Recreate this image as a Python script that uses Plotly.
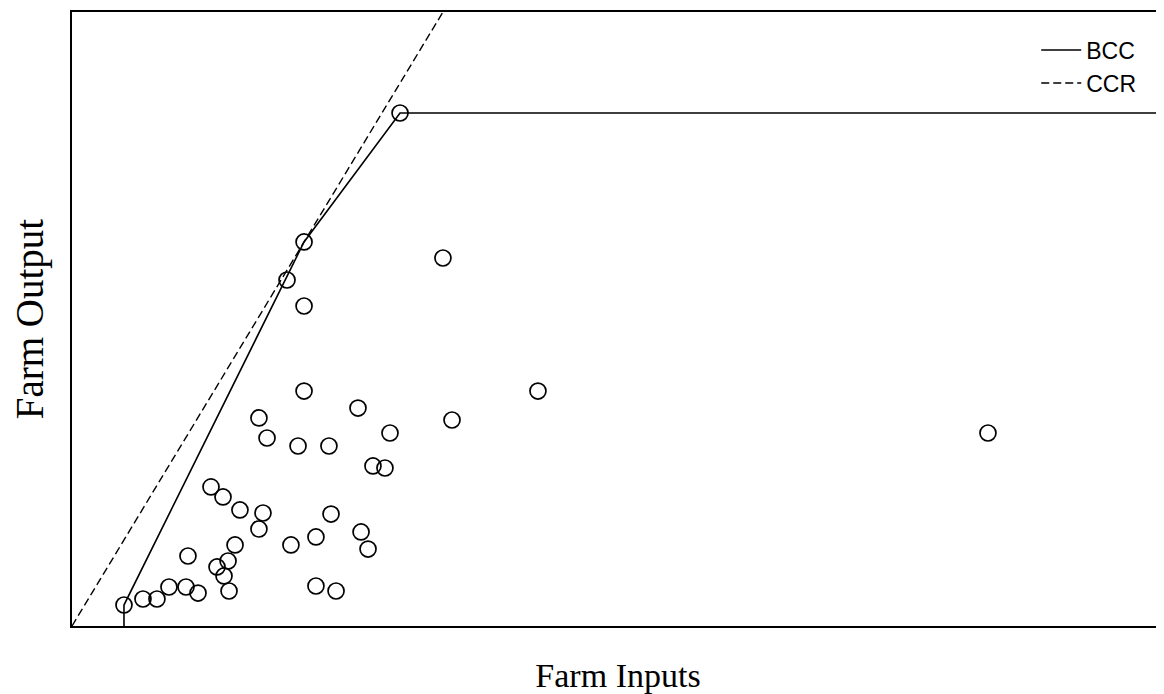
import plotly.graph_objects as go

# ---- data (arbitrary units) ----
farm_inputs = [4.76, 6.50, 7.78, 8.88, 10.44, 11.54, 10.62, 12.73, 13.83, 15.38,
               17.49, 17.12, 14.93, 14.29, 13.28, 13.92, 14.38, 20.05, 22.34, 23.72,
               26.47, 27.11, 22.34, 24.18, 27.56, 28.66, 21.25, 19.69, 21.25, 33.97,
               21.25, 26.19, 17.12, 34.80, 17.86, 20.70, 23.53, 29.12, 30.04, 42.67,
               83.88]
farm_output = [2.05, 2.64, 2.64, 3.81, 3.81, 3.22, 6.84, 13.59, 12.61, 11.34,
               11.04, 9.48, 7.92, 6.35, 5.77, 4.89, 3.42, 7.92, 8.70, 10.94,
               9.19, 7.52, 3.91, 3.42, 15.64, 15.44, 37.53, 33.81, 31.27, 35.96,
               22.96, 21.30, 20.33, 20.13, 18.37, 17.59, 17.59, 18.86, 50.13, 22.96,
               18.86]
x_range = [0, 100]
y_range = [0, 60]
legend_labels = ["BCC", "CCR"]
x_title = "Farm Inputs"
y_title = "Farm Output"

# ---- frontiers computed from the data ----
pts = sorted(zip(farm_inputs, farm_output), key=lambda p: (p[0], -p[1]))
pareto = []
best = -1e9
for px, py in pts:
    if py > best:
        pareto.append((px, py))
        best = py
hull = []
for p in pareto:
    while len(hull) >= 2:
        (x1, y1), (x2, y2) = hull[-2], hull[-1]
        cross = (x2 - x1) * (p[1] - y1) - (y2 - y1) * (p[0] - x1)
        if cross >= 0:
            hull.pop()
        else:
            break
    hull.append(p)
bcc_x = [hull[0][0]] + [p[0] for p in hull] + [x_range[1]]
bcc_y = [0] + [p[1] for p in hull] + [hull[-1][1]]

slope = max(yv / xv for xv, yv in zip(farm_inputs, farm_output))
ccr_x = [0, y_range[1] / slope]
ccr_y = [0, y_range[1]]

fig = go.Figure()
fig.add_trace(go.Scatter(x=farm_inputs, y=farm_output, mode="markers",
                         marker=dict(symbol="circle-open", size=16, color="black",
                                     line=dict(width=1.7, color="black")),
                         showlegend=False, hoverinfo="x+y"))
fig.add_trace(go.Scatter(x=bcc_x, y=bcc_y, mode="lines", name=legend_labels[0],
                         line=dict(color="black", width=1.6)))
fig.add_trace(go.Scatter(x=ccr_x, y=ccr_y, mode="lines", name=legend_labels[1],
                         line=dict(color="black", width=1.4, dash="8px,4px")))

fig.update_layout(
    width=1156, height=686,
    margin=dict(l=64, r=0, t=4, b=68),
    paper_bgcolor="white", plot_bgcolor="white",
    font=dict(family="Liberation Serif", color="black"),
    legend=dict(x=0.883, y=0.973, xanchor="left", yanchor="top",
                bgcolor="rgba(0,0,0,0)", font=dict(family="Liberation Sans", size=23),
                tracegroupgap=0, itemwidth=40),
    xaxis=dict(range=x_range, showgrid=False, zeroline=False, showticklabels=False,
               ticks="", showline=True, linecolor="black", linewidth=2, mirror=True,
               title=dict(text=x_title, font=dict(family="Liberation Serif", size=34),
                          standoff=36)),
    yaxis=dict(range=y_range, showgrid=False, zeroline=False, showticklabels=False,
               ticks="", showline=True, linecolor="black", linewidth=2,
               title=dict(text=y_title, font=dict(family="Liberation Serif", size=39),
                          standoff=20)),
)

fig.write_html("out.html")
